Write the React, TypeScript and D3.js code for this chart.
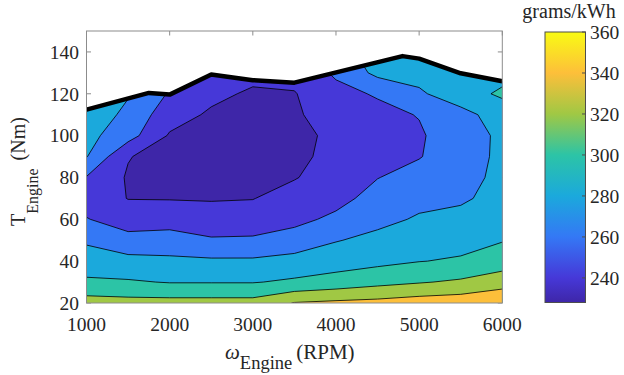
import React from 'react';
import * as d3 from 'd3';

// engine map grid
const rpm = [1000, 1500, 2000, 2500, 3000, 3500, 4000, 4500, 5000, 5500, 6000];
const torque = [20, 30, 40, 50, 60, 70, 80, 90, 100, 110, 120, 130, 140];

// BSFC in grams/kWh, one row per torque value, one column per speed
const bsfc = [
  [329, 327, 327, 327, 327, 341, 344, 346, 350, 352, 358],
  [303, 302, 299, 299, 299, 303, 308, 314, 318.5, 323, 331],
  [290, 286, 284.5, 283, 283, 287, 291, 295, 299.5, 302, 310],
  [277, 267, 267, 262.5, 263, 268, 279, 285, 291, 294, 299],
  [261, 250, 253, 246, 248, 255, 264, 275, 282, 286, 292],
  [251, 239.5, 239, 239, 239.5, 247, 254, 267, 275, 277, 287],
  [259, 238, 233, 232, 233, 239, 248, 259.5, 267, 273, 285],
  [281, 241, 232, 229, 229, 236, 245, 254, 259, 271, 284],
  [286, 268, 238, 231, 228.5, 235, 244, 252, 257, 275, 282],
  [296, 274, 249, 237, 231, 238, 247, 254, 261, 273, 290],
  [300, 282, 258, 245, 237, 239, 254, 262, 277, 292, 303],
  [305, 288, 266, 254, 246, 246, 263, 285, 287, 290, 294],
  [310, 292, 272, 262, 255, 253, 270, 292, 292, 294, 292],
];

const levels = [240, 260, 280, 300, 320, 340];

// max torque curve
const maxTorqueRpm = [1000, 1750, 2000, 2500, 3000, 3500, 4800, 5000, 5500, 6000];
const maxTorque = [112.4, 120.4, 119.6, 129.2, 126.5, 125.3, 138, 136.8, 129.8, 126];

const xTicks = [1000, 2000, 3000, 4000, 5000, 6000];
const yTicks = [20, 40, 60, 80, 100, 120, 140];
const cbarTicks = [240, 260, 280, 300, 320, 340, 360];

// parula-like colormap
const cmapValues = [228, 240, 260, 280, 300, 320, 340, 360];
const cmapColors = ['#3e26a8', '#4638d8', '#3478f5', '#1ba9dc', '#2cc4a6', '#a0c844', '#fdbf3a', '#f9fb14'];

const FONT = "'Liberation Serif', 'Times New Roman', serif";
const TXT = '#262626';

export default function App() {
  const x = d3.scaleLinear().domain([1000, 6000]).range([86.5, 502.3]);
  const y = d3.scaleLinear().domain([20, 150]).range([303, 31]);
  const color = d3.scaleLinear<string>().domain(cmapValues).range(cmapColors).interpolate(d3.interpolateRgb);
  const cy = d3.scaleLinear().domain([228, 360]).range([302.5, 32]);

  // grid index -> data units (d3.contours puts samples at cell centres)
  const gx = d3.scaleLinear().domain([0.5, rpm.length - 0.5]).range([rpm[0], rpm[rpm.length - 1]]);
  const gy = d3.scaleLinear().domain([0.5, torque.length - 0.5]).range([torque[0], torque[torque.length - 1]]);

  const bands = d3.contours().size([rpm.length, torque.length]).thresholds(levels)(bsfc.flat());
  const path = d3.geoPath(
    d3.geoTransform({
      point(px: number, py: number) {
        this.stream.point(x(gx(px)), y(gy(py)));
      },
    })
  );

  const area = d3
    .area<number>()
    .x((d, i) => x(maxTorqueRpm[i]))
    .y0(y(20))
    .y1((d) => y(d));
  const line = d3
    .line<number>()
    .x((d, i) => x(maxTorqueRpm[i]))
    .y((d) => y(d));

  const [x0, x1] = x.range();
  const [yb, yt] = y.range();
  const tick = 4.5;

  return (
    <svg width={624} height={375} style={{ position: 'absolute', left: 0, top: 0, background: '#fff', fontFamily: FONT }}>
      <defs>
        <clipPath id="torqueClip">
          <path d={area(maxTorque) || ''} />
        </clipPath>
        <clipPath id="plotClip">
          <rect x={x0} y={yt} width={x1 - x0} height={yb - yt} />
        </clipPath>
        <linearGradient id="cbar" x1="0" y1="1" x2="0" y2="0">
          {cmapValues.map((v) => (
            <stop key={v} offset={(v - 228) / 132} stopColor={color(v)} />
          ))}
        </linearGradient>
      </defs>

      {/* ticks (under the filled map) */}
      <g stroke="#8c8c8c" strokeWidth={1}>
        {xTicks.map((t) => (
          <g key={t}>
            <line x1={x(t)} x2={x(t)} y1={yt} y2={yt + tick} />
            <line x1={x(t)} x2={x(t)} y1={yb} y2={yb - tick} />
          </g>
        ))}
        {yTicks.map((t) => (
          <g key={t}>
            <line x1={x0} x2={x0 + tick} y1={y(t)} y2={y(t)} />
            <line x1={x1} x2={x1 - tick} y1={y(t)} y2={y(t)} />
          </g>
        ))}
      </g>

      {/* filled contours */}
      <g clipPath="url(#torqueClip)">
        <rect x={x0} y={yt} width={x1 - x0} height={yb - yt} fill={color(228)} />
        {bands.map((b) => (
          <path key={b.value} d={path(b) || ''} fill={color(b.value)} />
        ))}
        {bands.map((b) => (
          <path key={'l' + b.value} d={path(b) || ''} fill="none" stroke="#000" strokeWidth={0.8} strokeLinejoin="round" />
        ))}
      </g>

      {/* max torque line */}
      <g clipPath="url(#plotClip)">
        <path d={line(maxTorque) || ''} fill="none" stroke="#000" strokeWidth={4.5} strokeLinejoin="round" />
      </g>

      {/* frame */}
      <rect x={x0} y={yt} width={x1 - x0} height={yb - yt} fill="none" stroke="#8c8c8c" strokeWidth={1} />

      {/* tick labels */}
      <g fill={TXT} fontSize={19.5}>
        {xTicks.map((t) => (
          <text key={t} x={x(t)} y={331} textAnchor="middle">
            {t}
          </text>
        ))}
        {yTicks.map((t) => (
          <text key={t} x={79} y={y(t)} dy="0.35em" textAnchor="end">
            {t}
          </text>
        ))}
      </g>

      {/* axis labels */}
      <text x={225} y={359} fill={TXT} fontSize={21}>
        <tspan fontStyle="italic">ω</tspan>
        <tspan fontSize={18.5} dy={10}>Engine</tspan>
        <tspan dy={-10} dx={4}>(RPM)</tspan>
      </text>
      <text transform="translate(25,226) rotate(-90)" fill={TXT} fontSize={20}>
        <tspan>T</tspan>
        <tspan fontSize={16} dy={13}>Engine</tspan>
        <tspan dy={-13} dx={8}>(Nm)</tspan>
      </text>

      {/* colorbar */}
      <rect x={545} y={cy(360)} width={40.5} height={cy(228) - cy(360)} fill="url(#cbar)" stroke="#4d4d4d" strokeWidth={1} />
      <g stroke="#4d4d4d" strokeWidth={1}>
        {cbarTicks.map((t) => (
          <line key={t} x1={585.5} x2={582} y1={cy(t)} y2={cy(t)} />
        ))}
      </g>
      <g fill={TXT} fontSize={19.5}>
        {cbarTicks.map((t) => (
          <text key={t} x={590} y={cy(t)} dy="0.35em">
            {t}
          </text>
        ))}
      </g>
      <text x={569} y={18} textAnchor="middle" fill={TXT} fontSize={20}>
        grams/kWh
      </text>
    </svg>
  );
}
